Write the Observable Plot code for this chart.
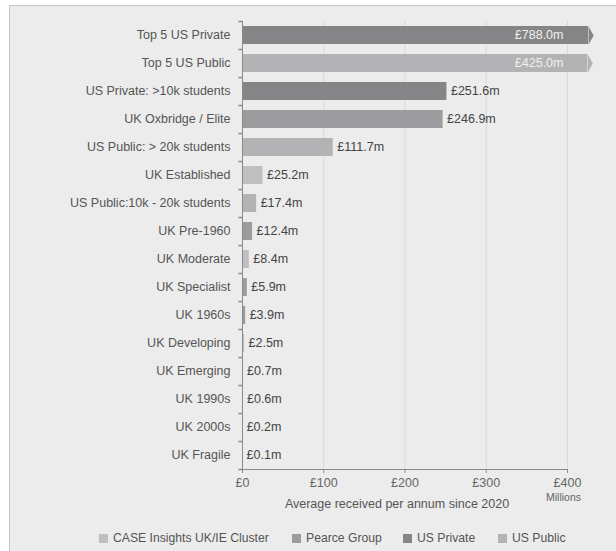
<!DOCTYPE html>
<html><head><meta charset="utf-8">
<script src="https://cdn.jsdelivr.net/npm/d3@7"></script>
<script src="https://cdn.jsdelivr.net/npm/@observablehq/plot@0.6"></script>
<style>
html,body{margin:0;padding:0;background:#fff;width:616px;height:551px;overflow:hidden;font-family:"Liberation Sans",Arial,sans-serif;}
#box{position:absolute;left:9px;top:5px;right:0;bottom:0;background:#ececec;border-top:1px solid #c6c6c6;border-left:1px solid #c6c6c6;}
#chart{position:absolute;left:0;top:0;}
#legend{position:absolute;left:0;top:530px;width:616px;height:16px;font-size:12.2px;color:#555;white-space:nowrap;}
.item{position:absolute;top:0;display:flex;align-items:center;height:16px}
.sw{width:9px;height:9px;margin-right:5px}
</style></head><body>
<div id="box"></div><div id="chart"></div><div id="legend"></div>
<script>
const categories = ["Top 5 US Private","Top 5 US Public","US Private: >10k students","UK Oxbridge / Elite","US Public: > 20k students","UK Established","US Public:10k - 20k students","UK Pre-1960","UK Moderate","UK Specialist","UK 1960s","UK Developing","UK Emerging","UK 1990s","UK 2000s","UK Fragile"];
const values = [788.0,425.0,251.6,246.9,111.7,25.2,17.4,12.4,8.4,5.9,3.9,2.5,0.7,0.6,0.2,0.1];
const groups = ["US Private","US Public","US Private","Pearce Group","US Public","CASE Insights UK/IE Cluster","US Public","Pearce Group","CASE Insights UK/IE Cluster","Pearce Group","Pearce Group","CASE Insights UK/IE Cluster","CASE Insights UK/IE Cluster","Pearce Group","Pearce Group","CASE Insights UK/IE Cluster"];
const seriesNames = ["CASE Insights UK/IE Cluster","Pearce Group","US Private","US Public"];
const seriesColors = ["#bfbfbf","#9c9c9e","#858587","#b3b3b5"];
const legendLeft = [99, 292, 403, 498];
const xTicks = [0,100,200,300,400];
const axisTitle = "Average received per annum since 2020";
const unitLabel = "Millions";
const xMax = 400;
const CAP = 426; // display extent of off-scale bars

const rows = categories.map((c,i)=>({cat:c, value:values[i], group:groups[i], shown:Math.min(values[i],CAP), capped:values[i]>xMax}));
const fmt = d => "£" + d.value.toFixed(1) + "m";

const tipSymbol = {draw(ctx){ctx.moveTo(0,-9);ctx.lineTo(5,0);ctx.lineTo(0,9);ctx.closePath();}};
const tickSymbol = {draw(ctx){ctx.moveTo(-4,0);ctx.lineTo(0,0);}};

const chart = Plot.plot({
  width:616, height:515,
  marginLeft:242, marginRight:49, marginTop:21, marginBottom:46,
  style:{background:"transparent", fontFamily:"'Liberation Sans',Arial,sans-serif", fontSize:"12.5px", color:"#555"},
  x:{domain:[0,xMax], axis:null},
  y:{domain:categories, paddingInner:0.36, paddingOuter:0.18, axis:null},
  color:{domain:seriesNames, range:seriesColors},
  marks:[
    Plot.ruleX(xTicks.slice(1), {stroke:"#d9d9d9"}),
    Plot.barX(rows, {y:"cat", x:"shown", fill:"group"}),
    Plot.dot(rows.filter(d=>d.capped), {y:"cat", x:"shown", fill:"group", stroke:null, symbol:tipSymbol}),
    Plot.ruleX([0], {stroke:"#8a8a8a"}),
    Plot.frame({anchor:"bottom", stroke:"#8a8a8a"}),
    Plot.dot(categories, {y:d=>d, frameAnchor:"left", symbol:tickSymbol, stroke:"#8a8a8a", fill:null, dy:-14}),
    Plot.dot(categories.slice(-1), {y:d=>d, frameAnchor:"left", symbol:tickSymbol, stroke:"#8a8a8a", fill:null, dy:14}),
    Plot.text(rows.filter(d=>!d.capped), {y:"cat", x:"value", text:fmt, textAnchor:"start", dx:4, dy:-0.5, fill:"#444", fontSize:12.5}),
    Plot.text(rows.filter(d=>d.capped), {y:"cat", frameAnchor:"right", text:fmt, textAnchor:"end", dx:-4, dy:-0.5, fill:"#f0f0f0", fontSize:12.5}),
    Plot.axisY({tickSize:0, tickPadding:12, fontSize:12.5, color:"#555", label:null, dy:-0.5}),
    Plot.axisX({ticks:xTicks, tickFormat:d=>"£"+d, tickSize:4, tickPadding:5, fontSize:12.5, color:"#666", stroke:"#8a8a8a", label:null}),
    Plot.text([unitLabel], {frameAnchor:"bottom-right", textAnchor:"middle", dx:-4, dy:31, fontSize:10.5, fill:"#666"}),
    Plot.text([axisTitle], {frameAnchor:"bottom", dx:-8, dy:38, fontSize:12.5, fill:"#555"})
  ]
});
document.getElementById("chart").appendChild(chart);

const lg = document.getElementById("legend");
seriesNames.forEach((n,i)=>{
  const it = document.createElement("div"); it.className="item"; it.style.left = legendLeft[i] + "px";
  const sw = document.createElement("div"); sw.className="sw"; sw.style.background=seriesColors[i];
  const tx = document.createElement("span"); tx.textContent=n;
  it.appendChild(sw); it.appendChild(tx); lg.appendChild(it);
});
</script>
</body></html>
